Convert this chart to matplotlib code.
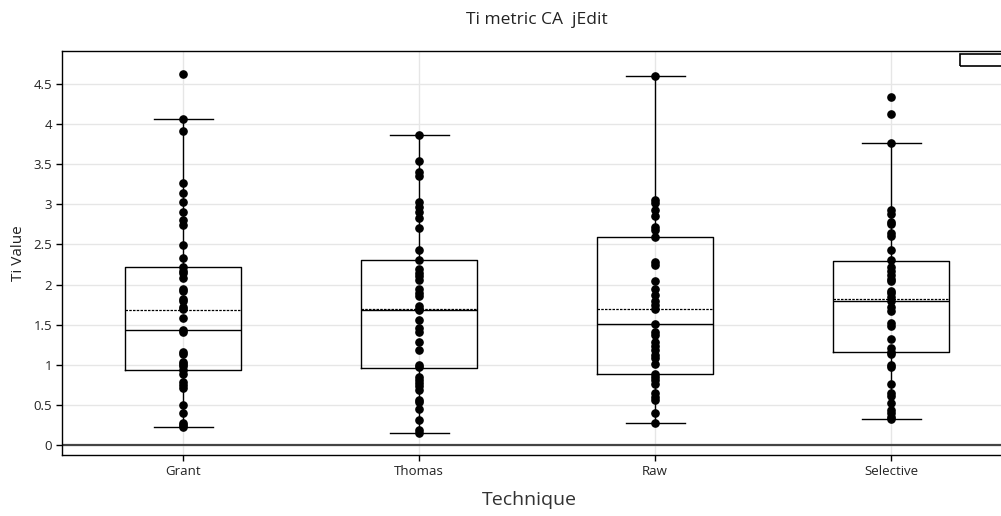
import numpy as np
import matplotlib
matplotlib.use("Agg")
import matplotlib.pyplot as plt
from matplotlib.patches import Rectangle

plt.rcParams['font.family'] = ['Open Sans', 'DejaVu Sans']

categories = ["Grant", "Thomas", "Raw", "Selective"]

grant = [4.63, 4.06, 3.915, 3.27, 3.14, 3.03, 2.90, 2.81, 2.74, 2.49, 2.33, 2.22,
         2.17, 2.14, 2.08, 1.95, 1.92, 1.82, 1.80, 1.72, 1.69, 1.58, 1.43, 1.41,
         1.16, 1.14, 1.04, 1.01, 0.98, 0.935, 0.89, 0.78, 0.75, 0.71, 0.50, 0.40,
         0.28, 0.25, 0.23]
thomas = [3.865, 3.54, 3.40, 3.35, 3.03, 2.97, 2.90, 2.83, 2.70, 2.43, 2.31, 2.19,
          2.15, 2.11, 2.06, 1.94, 1.90, 1.86, 1.73, 1.70, 1.68, 1.56, 1.455, 1.41,
          1.29, 1.18, 1.00, 0.97, 0.85, 0.81, 0.77, 0.73, 0.68, 0.56, 0.53, 0.445,
          0.31, 0.19, 0.155]
raw = [4.605, 3.055, 3.02, 2.93, 2.85, 2.72, 2.68, 2.59, 2.28, 2.24, 2.04, 1.94,
       1.87, 1.79, 1.745, 1.70, 1.505, 1.41, 1.37, 1.29, 1.23, 1.185, 1.12, 1.09,
       1.01, 0.89, 0.85, 0.81, 0.76, 0.645, 0.60, 0.56, 0.40, 0.28]
selective = [4.34, 4.13, 3.77, 2.93, 2.88, 2.78, 2.76, 2.64, 2.60, 2.43, 2.31, 2.22,
             2.17, 2.12, 2.07, 2.04, 1.92, 1.89, 1.85, 1.80, 1.72, 1.67, 1.525, 1.48,
             1.32, 1.205, 1.165, 1.135, 1.00, 0.97, 0.76, 0.645, 0.615, 0.52, 0.44,
             0.395, 0.355, 0.325]

# box statistics
q1 = [0.935, 0.955, 0.89, 1.165]
median = [1.44, 1.68, 1.505, 1.80]
q3 = [2.22, 2.31, 2.59, 2.30]
mean = [1.68, 1.70, 1.70, 1.82]
whislo = [0.23, 0.155, 0.28, 0.325]
whishi = [4.06, 3.865, 4.605, 3.77]

series = [grant, thomas, raw, selective]

W, H = 1001, 516
fig = plt.figure(figsize=(W / 100, H / 100), dpi=100)
left, right, top, bottom = 62, 1009, 51, 455
ax = fig.add_axes([left / W, 1 - bottom / H, (right - left) / W, (bottom - top) / H])

pos = np.arange(len(categories))
stats = []
for i in range(len(categories)):
    stats.append(dict(q1=q1[i], med=median[i], q3=q3[i], mean=mean[i],
                      whislo=whislo[i], whishi=whishi[i], fliers=[]))

ax.bxp(stats, positions=pos, widths=0.49, showmeans=True, meanline=True,
       showfliers=False, patch_artist=False,
       boxprops=dict(color='black', linewidth=1.0),
       medianprops=dict(color='black', linewidth=1.0),
       meanprops=dict(color='black', linewidth=0.9, linestyle=(0, (2, 1))),
       whiskerprops=dict(color='black', linewidth=1.0),
       capprops=dict(color='black', linewidth=1.0),
       capwidths=0.25, zorder=3)

for i, vals in enumerate(series):
    ax.plot(np.full(len(vals), pos[i]), vals, 'o', color='black',
            markersize=5.2, zorder=4, linestyle='none')

ax.axhline(0, color='#444444', linewidth=1.6, zorder=2)

ax.set_xlim(-0.513, 3.5)
ax.set_ylim(-0.125, 4.913)
ax.set_yticks([0, 0.5, 1, 1.5, 2, 2.5, 3, 3.5, 4, 4.5])
ax.set_yticklabels(["0", "0.5", "1", "1.5", "2", "2.5", "3", "3.5", "4", "4.5"])
ax.set_xticks(pos)
ax.set_xticklabels(categories)
ax.tick_params(axis='both', labelsize=9.5, length=4, width=1, color='black',
               labelcolor='#222222', pad=3)
ax.grid(True, color='#e6e6e6', linewidth=1.0, zorder=0)
ax.set_axisbelow(True)

for s in ['left', 'bottom', 'top']:
    ax.spines[s].set_color('black')
    ax.spines[s].set_linewidth(1.0)
ax.spines['right'].set_visible(False)

fig.text(18 / W, 1 - 253 / H, "Ti Value", ha='center', va='center',
         rotation=90, fontsize=11, color='#222222')

fig.text(529 / W, 1 - 500 / H, "Technique", ha='center', va='center',
         fontsize=14, color='#333333')

fig.text(537 / W, 1 - 20 / H, "Ti metric CA  jEdit", ha='center', va='center',
         fontsize=12.5, color='#222222')

fig.patches.append(Rectangle((960 / W, 1 - 66 / H), 50 / W, 12 / H,
                             transform=fig.transFigure, fill=False,
                             edgecolor='black', linewidth=1.2))

fig.savefig("out.png", dpi=100)
